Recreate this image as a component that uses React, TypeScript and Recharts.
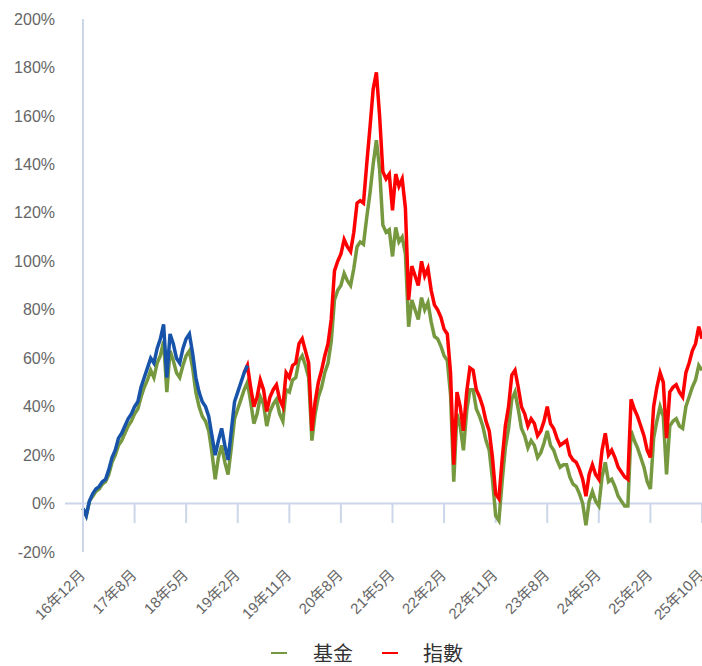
import { LineChart, Line, XAxis, YAxis, ReferenceLine } from "recharts";

// x-axis tick labels, one every 16 points
const tickLabels = [
  "16年12月", "17年8月", "18年5月", "19年2月", "19年11月", "20年8月", "21年5月",
  "22年2月", "22年11月", "23年8月", "24年5月", "25年2月", "25年10月",
];

// 指數 (index) cumulative return, %
const indexValues = [
  -2, -5, 1, 4, 6, 7, 9, 10, 14, 19, 22, 27, 29, 32, 35, 37, 40, 42, 48, 52,
  56, 60, 58, 64, 68, 74, 52, 70, 66, 60, 58, 64, 68, 70, 62, 52, 46, 42, 40, 36,
  28, 20, 26, 31, 24, 18, 30, 42, 46, 50, 54, 57, 48, 40, 44, 51, 47, 38, 44, 47,
  49, 43, 40, 54, 52, 57, 58, 66, 68, 63, 58, 30, 42, 50, 55, 61, 66, 76, 96, 100,
  103, 109, 106, 104, 112, 124, 125, 124, 140, 155, 171, 178, 160, 137, 134, 136, 121, 136, 131, 134,
  122, 84, 98, 94, 90, 100, 94, 97, 88, 82, 80, 77, 72, 70, 54, 16, 46, 40, 30, 46,
  56, 55, 47, 44, 40, 34, 30, 19, 4, 2, 18, 32, 40, 53, 55, 48, 40, 37, 32, 35,
  33, 28, 30, 34, 40, 33, 31, 27, 24, 25, 26, 20, 18, 17, 14, 10, 3, 12, 16, 12,
  10, 22, 29, 20, 22, 19, 15, 13, 11, 10, 43, 39, 36, 32, 28, 22, 19, 40, 48, 54,
  50, 27, 46, 48, 49, 46, 44, 54, 58, 63, 66, 73, 68,
];

// 基金 (fund) cumulative return, %
const fundValues = [
  -2, -5, 1, 3, 5, 6, 8, 9, 12, 17, 20, 24, 26, 29, 32, 34, 37, 39, 44, 48,
  51, 55, 52, 58, 61, 67, 46, 63, 59, 54, 52, 57, 61, 63, 56, 46, 40, 36, 34, 30,
  21, 10, 19, 24, 17, 12, 23, 35, 39, 43, 47, 50, 42, 33, 37, 44, 41, 32, 38, 41,
  43, 37, 34, 47, 46, 51, 52, 59, 61, 57, 52, 26, 37, 44, 48, 54, 58, 67, 84, 88,
  90, 95, 92, 90, 97, 106, 108, 107, 118, 128, 140, 150, 138, 115, 112, 113, 102, 114, 108, 110,
  103, 73, 84, 80, 76, 85, 80, 83, 75, 69, 68, 65, 61, 59, 45, 9, 37, 32, 22, 38,
  47, 47, 39, 36, 32, 26, 22, 10, -5, -7, 9, 23, 31, 43, 46, 39, 31, 28, 23, 26,
  24, 19, 21, 25, 30, 24, 22, 18, 15, 16, 16, 11, 8, 7, 4, 0, -9, 1, 5, 1,
  -1, 11, 17, 9, 10, 7, 3, 1, -1, -1, 30, 26, 23, 19, 15, 9, 6, 27, 34, 40,
  36, 12, 32, 34, 35, 32, 31, 40, 44, 48, 51, 57, 55,
];

// the early stretch of the index drawn in blue
const blueEnd = 51;

const yTicks = [-20, 0, 20, 40, 60, 80, 100, 120, 140, 160, 180, 200];

const TICK_STEP = 16;
const xTicks = tickLabels.map((_, k) => k * TICK_STEP);

const data = indexValues.map((v, i) => ({
  i,
  index: i >= blueEnd - 1 ? v : null,
  early: i <= blueEnd ? v : null,
  fund: fundValues[i],
}));

const FONT = '"Liberation Sans", Arial, "Noto Sans CJK TC", sans-serif';
const AXIS_COLOR = "#ccd6eb";

const XTick = ({ x, y, payload }: any) => {
  const k = Math.round(payload.value / TICK_STEP);
  return (
    <text
      x={x + 3}
      y={y + 16}
      transform={`rotate(-45, ${x + 3}, ${y + 16})`}
      textAnchor="end"
      fontSize={15}
      fill="#666"
      fontFamily={FONT}
    >
      {tickLabels[k]}
    </text>
  );
};

export default function App() {
  return (
    <div style={{ position: "absolute", left: 0, top: 0, width: 702, height: 666, background: "#fff" }}>
      <LineChart width={702} height={666} data={data} margin={{ top: 19, right: 0, left: 0, bottom: 0 }}>
        <XAxis
          dataKey="i"
          type="number"
          domain={[0, indexValues.length - 1]}
          ticks={xTicks}
          interval={0}
          axisLine={false}
          tickLine={false}
          height={114}
          tick={<XTick />}
        />
        <YAxis
          domain={[-20, 200]}
          ticks={yTicks}
          interval={0}
          width={83}
          tickFormatter={(v) => `${v}%`}
          tickLine={false}
          tickMargin={22}
          axisLine={{ stroke: AXIS_COLOR, strokeWidth: 2 }}
          tick={{ fontSize: 16, fill: "#666", fontFamily: FONT }}
        />
        <ReferenceLine
          y={0}
          stroke={AXIS_COLOR}
          strokeWidth={2}
          shape={(p: any) => (
            <line x1={p.x1 - 18} y1={p.y1} x2={p.x2} y2={p.y2} stroke={AXIS_COLOR} strokeWidth={2} />
          )}
        />
        {xTicks.map((t) => (
          <ReferenceLine
            key={t}
            segment={[{ x: t, y: 0 }, { x: t, y: -8 }]}
            stroke={AXIS_COLOR}
            strokeWidth={2}
          />
        ))}
        <Line
          dataKey="fund"
          stroke="#76983f"
          strokeWidth={3.5}
          dot={false}
          isAnimationActive={false}
          type="linear"
        />
        <Line
          dataKey="index"
          stroke="#ff0000"
          strokeWidth={3.5}
          dot={false}
          isAnimationActive={false}
          type="linear"
        />
        <Line
          dataKey="early"
          stroke="#1753a9"
          strokeWidth={3.5}
          dot={false}
          isAnimationActive={false}
          type="linear"
        />
      </LineChart>
      <div
        style={{
          position: "absolute",
          top: 640,
          left: 0,
          width: 702,
          height: 26,
          fontFamily: '"Noto Sans CJK TC", sans-serif',
          fontSize: 20,
          color: "#333",
        }}
      >
        <span style={{ position: "absolute", left: 271, top: 12, width: 16, height: 2, background: "#76983f" }} />
        <span style={{ position: "absolute", left: 313, top: 0, lineHeight: "26px" }}>基金</span>
        <span style={{ position: "absolute", left: 382, top: 12, width: 16, height: 2, background: "#ff0000" }} />
        <span style={{ position: "absolute", left: 423, top: 0, lineHeight: "26px" }}>指數</span>
      </div>
    </div>
  );
}
